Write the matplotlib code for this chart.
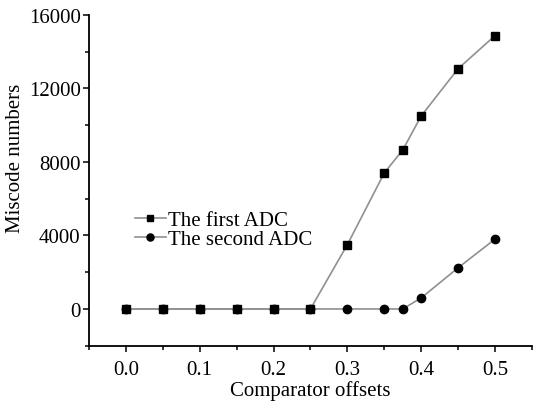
import matplotlib
matplotlib.use("Agg")
import matplotlib.pyplot as plt
from matplotlib.ticker import MultipleLocator

offsets = [0.0, 0.05, 0.1, 0.15, 0.2, 0.25, 0.3, 0.35, 0.375, 0.4, 0.45, 0.5]
first_adc = [0, 0, 0, 0, 0, 0, 3500, 7400, 8650, 10500, 13070, 14870]
second_adc = [0, 0, 0, 0, 0, 0, 0, 0, 0, 600, 2240, 3800]
xticks = [0.0, 0.1, 0.2, 0.3, 0.4, 0.5]
yticks = [0, 4000, 8000, 12000, 16000]

plt.rcParams['font.family'] = ['Liberation Serif', 'DejaVu Serif']
plt.rcParams['font.size'] = 15

fig = plt.figure(figsize=(5.33, 4.06), dpi=100)
ax = fig.add_axes([0.167, 0.146, 0.831, 0.815])

ax.plot(offsets, first_adc, color='#909090', lw=1.2, marker='s', ms=5.5,
        mfc='black', mec='black', label='The first ADC', zorder=3)
ax.plot(offsets, second_adc, color='#909090', lw=1.2, marker='o', ms=6,
        mfc='black', mec='black', label='The second ADC', zorder=2)

ax.set_xlim(-0.05, 0.55)
ax.set_ylim(-2000, 16000)
ax.set_xticks(xticks)
ax.set_xticklabels([f"{v:.1f}" for v in xticks])
ax.set_yticks(yticks)
ax.xaxis.set_minor_locator(MultipleLocator(0.05))
ax.yaxis.set_minor_locator(MultipleLocator(2000))
ax.tick_params(which='major', direction='out', length=4.5, width=1.1, labelsize=15)
ax.tick_params(which='minor', direction='out', length=3, width=1.1)
ax.tick_params(axis='x', which='major', pad=6)
ax.tick_params(axis='y', which='major', pad=1.5)
for s in ['top', 'right']:
    ax.spines[s].set_visible(False)
ax.spines['left'].set_linewidth(1.3)
ax.spines['bottom'].set_linewidth(1.3)

ax.set_xlabel('Comparator offsets', fontsize=15)
ax.xaxis.set_label_coords(0.5, -0.105)
ax.set_ylabel('Miscode numbers', fontsize=15, va='center')
ax.yaxis.set_label_coords(-0.166, 0.57)

ax.legend(loc='center left', bbox_to_anchor=(0.103, 0.35), frameon=False,
          handlelength=1.5, handletextpad=0.1, labelspacing=0.0,
          borderpad=0, borderaxespad=0, fontsize=15, markerscale=0.85)

fig.savefig('out.png', dpi=100)
